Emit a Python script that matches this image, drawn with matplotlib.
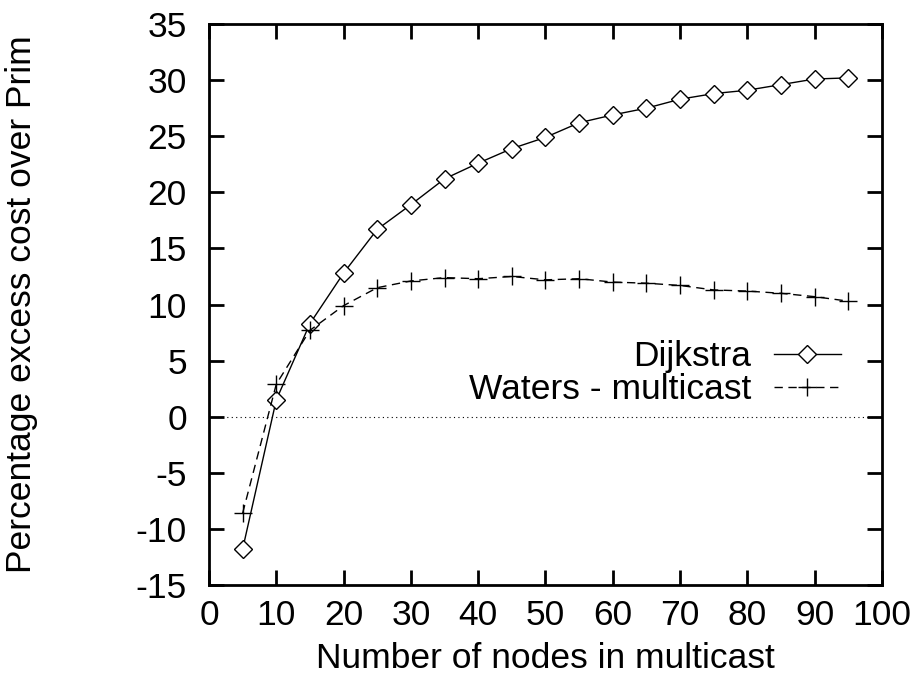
import matplotlib
matplotlib.use("Agg")
import matplotlib.pyplot as plt

plt.rcParams['font.family'] = ['Liberation Sans', 'DejaVu Sans']
plt.rcParams['axes.unicode_minus'] = False

nodes = [5, 10, 15, 20, 25, 30, 35, 40, 45, 50, 55, 60, 65, 70, 75, 80, 85, 90, 95]
dijkstra = [-11.8, 1.5, 8.3, 12.8, 16.7, 18.9, 21.2, 22.6, 23.9, 24.9,
            26.2, 26.9, 27.5, 28.3, 28.8, 29.1, 29.6, 30.1, 30.2]
waters = [-8.6, 2.9, 7.7, 9.9, 11.5, 12.1, 12.4, 12.3, 12.5, 12.2,
          12.3, 12.0, 11.9, 11.7, 11.3, 11.2, 11.0, 10.7, 10.3]

fig = plt.figure(figsize=(9.19, 6.75), dpi=100)
ax = fig.add_axes([0.2274, 0.1333, 0.7323, 0.8311])

# zero reference line
ax.axhline(0, color='black', lw=0.8, ls=(0, (1, 3)))
ax.plot(nodes, dijkstra, color='black', lw=1.0, marker='D', ms=9,
        mfc='white', mec='black', mew=1.0, label='Dijkstra')
ax.plot(nodes, waters, color='black', lw=1.0, ls=(0, (6, 4)), marker='+',
        ms=13, mew=1.0, label='Waters - multicast')

fs = 25.5
ax.set_xlim(0, 100)
ax.set_ylim(-15, 35)
ax.set_xticks(range(0, 101, 10))
ax.set_yticks(range(-15, 36, 5))
ax.tick_params(direction='in', length=11, width=2, labelsize=fs,
               top=True, right=True)
ax.tick_params(axis='y', pad=16)
ax.tick_params(axis='x', pad=10)
for sp in ax.spines.values():
    sp.set_linewidth(2)

ax.set_xlabel('Number of nodes in multicast', fontsize=fs, labelpad=7)
ax.set_ylabel('Percentage excess cost over Prim', fontsize=fs, labelpad=70)

ax.legend(loc='center right', bbox_to_anchor=(0.939, 0.378), frameon=False,
          markerfirst=False, fontsize=fs, handlelength=1.9,
          labelspacing=0.0, borderaxespad=0, handletextpad=0.64,
          borderpad=0)

fig.savefig('out.png', dpi=100)
